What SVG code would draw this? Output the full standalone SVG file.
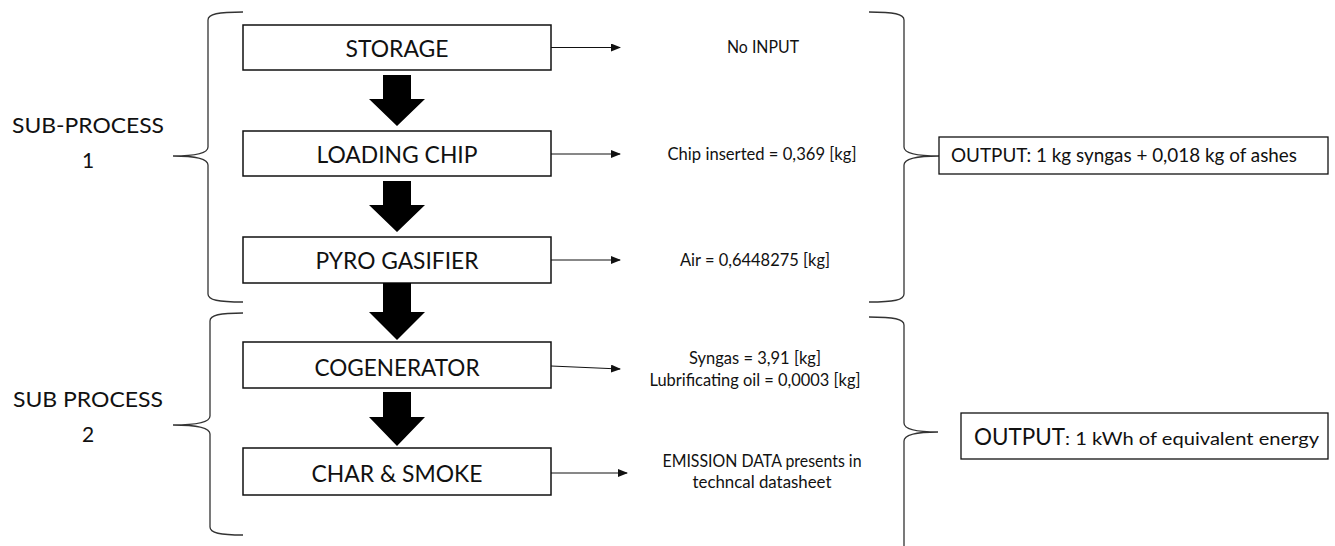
<svg xmlns="http://www.w3.org/2000/svg" width="1335" height="546" viewBox="0 0 1335 546">
  <style>
    text { font-family: Lato, "Open Sans", "Liberation Sans", sans-serif; fill: #111; }
    .node rect { fill: #fff; stroke: #111; stroke-width: 1.5; }
    .node text { font-size: 24px; text-anchor: middle; }
    .side { font-size: 21px; text-anchor: middle; }
    .io { font-size: 17px; text-anchor: middle; }
    .brace { fill: none; stroke: #333; stroke-width: 1.3; }
    .flow { fill: #000; }
    .feed { fill: none; stroke: #111; stroke-width: 1; }
    .out rect { fill: #fff; stroke: #111; stroke-width: 1.3; }
  </style>
  <defs>
    <marker id="tip" markerWidth="10" markerHeight="8" refX="9" refY="4" orient="auto" markerUnits="userSpaceOnUse">
      <path d="M0,0 L10,4 L0,8 Z" fill="#111"/>
    </marker>
  </defs>

  <rect width="1335" height="546" fill="#fff"/>

  <!-- group labels -->
  <g id="label-sub1">
    <text class="side" x="88" y="133" textLength="152" lengthAdjust="spacingAndGlyphs">SUB-PROCESS</text>
    <text class="side" x="88" y="168">1</text>
  </g>
  <g id="label-sub2">
    <text class="side" x="88" y="407" textLength="150" lengthAdjust="spacingAndGlyphs">SUB PROCESS</text>
    <text class="side" x="88" y="442">2</text>
  </g>

  <!-- braces -->
  <g id="braces">
    <path class="brace" d="M243,12 C218,12 208,14 208,20 L208,147 C208,154 192,156 173,156 C192,156 208,158 208,165 L208,294 C208,300 218,302 243,302"/>
    <path class="brace" d="M243,313 C220,313 210,315 210,321 L210,416 C210,423 192,425 173,425 C192,425 210,427 210,434 L210,527 C210,533 220,535 243,535"/>
    <path class="brace" d="M869,12 C894,12 904,14 904,20 L904,147 C904,154 920,156 939,156 C920,156 904,158 904,165 L904,294 C904,300 894,302 869,302"/>
    <path class="brace" d="M869,317 C894,317 904,319 904,325 L904,423 C904,430 920,432 938,432 C920,432 904,434 904,441 L904,546"/>
  </g>

  <!-- process steps -->
  <g id="storage" class="node">
    <rect x="243" y="25" width="308" height="45"/>
    <text x="397" y="57" textLength="103" lengthAdjust="spacingAndGlyphs">STORAGE</text>
  </g>
  <g id="loading-chip" class="node">
    <rect x="243" y="131" width="308" height="45"/>
    <text x="397" y="163" textLength="161" lengthAdjust="spacingAndGlyphs">LOADING CHIP</text>
  </g>
  <g id="pyro-gasifier" class="node">
    <rect x="243" y="237" width="308" height="46"/>
    <text x="397" y="269" textLength="163" lengthAdjust="spacingAndGlyphs">PYRO GASIFIER</text>
  </g>
  <g id="cogenerator" class="node">
    <rect x="243" y="342" width="308" height="46"/>
    <text x="397" y="376" textLength="165" lengthAdjust="spacingAndGlyphs">COGENERATOR</text>
  </g>
  <g id="char-smoke" class="node">
    <rect x="243" y="448" width="308" height="47"/>
    <text x="397" y="482" textLength="171" lengthAdjust="spacingAndGlyphs">CHAR &amp; SMOKE</text>
  </g>

  <!-- inputs -->
  <g id="input-storage">
    <text class="io" x="763" y="53" textLength="72" lengthAdjust="spacingAndGlyphs">No INPUT</text>
  </g>
  <g id="input-loading">
    <text class="io" x="762" y="160" textLength="189" lengthAdjust="spacingAndGlyphs">Chip inserted = 0,369 [kg]</text>
  </g>
  <g id="input-pyro">
    <text class="io" x="755" y="266" textLength="150" lengthAdjust="spacingAndGlyphs">Air = 0,6448275 [kg]</text>
  </g>
  <g id="input-cogen">
    <text class="io" x="755" y="364" textLength="132" lengthAdjust="spacingAndGlyphs">Syngas = 3,91 [kg]</text>
    <text class="io" x="755" y="386" textLength="211" lengthAdjust="spacingAndGlyphs">Lubrificating oil = 0,0003 [kg]</text>
  </g>
  <g id="input-char">
    <text class="io" x="762" y="467" textLength="199" lengthAdjust="spacingAndGlyphs">EMISSION DATA presents in</text>
    <text class="io" x="762" y="488" textLength="139" lengthAdjust="spacingAndGlyphs">techncal datasheet</text>
  </g>

  <!-- outputs -->
  <g id="output-sub1" class="out">
    <rect x="939" y="137" width="389" height="37"/>
    <text x="951" y="162" font-size="18.5" textLength="346" lengthAdjust="spacingAndGlyphs">OUTPUT: 1 kg syngas + 0,018 kg of ashes</text>
  </g>
  <g id="output-sub2" class="out">
    <rect x="961" y="413" width="367" height="46"/>
    <text x="974" y="445"><tspan font-size="23" textLength="91" lengthAdjust="spacingAndGlyphs">OUTPUT</tspan><tspan font-size="16.5" textLength="254" lengthAdjust="spacingAndGlyphs">: 1 kWh of equivalent energy</tspan></text>
  </g>

  <!-- connectors -->
  <g id="connectors">
    <path class="flow" d="M383,75 H411 V99 H425 L397,126 L369,99 H383 Z"/>
    <path class="flow" d="M383,181 H411 V205 H425 L397,232 L369,205 H383 Z"/>
    <path class="flow" d="M383,283 H411 V312 H425 L397,340 L369,312 H383 Z"/>
    <path class="flow" d="M383,392 H411 V417 H425 L397,446 L369,417 H383 Z"/>

    <line class="feed" x1="551" y1="47.5" x2="620" y2="47.5" marker-end="url(#tip)"/>
    <line class="feed" x1="551" y1="154" x2="620" y2="154" marker-end="url(#tip)"/>
    <line class="feed" x1="551" y1="260" x2="620" y2="260" marker-end="url(#tip)"/>
    <line class="feed" x1="551" y1="366" x2="620" y2="369" marker-end="url(#tip)"/>
    <line class="feed" x1="551" y1="473" x2="627" y2="473" marker-end="url(#tip)"/>
  </g>
</svg>
